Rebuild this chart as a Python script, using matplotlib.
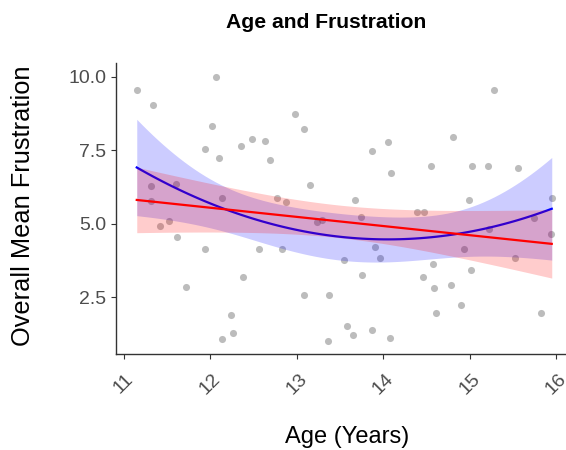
import numpy as np
import matplotlib
matplotlib.use("Agg")
import matplotlib.pyplot as plt

plt.rcParams["font.family"] = ["Liberation Sans", "DejaVu Sans"]

# values
age = [11.15, 11.34, 12.07, 12.02, 11.94, 12.10, 12.36, 12.48, 11.31, 11.60,
       12.14, 11.32, 12.63, 12.98, 13.08, 12.69, 13.15, 12.77, 12.88, 13.68,
       13.87, 14.06, 14.09, 15.28, 14.81, 14.55, 15.03, 15.21, 15.56, 14.99,
       15.95, 11.42, 11.52, 11.62, 11.94, 12.56, 12.38, 11.72, 12.24, 12.26,
       12.14, 12.83, 13.23, 13.29, 13.74, 13.90, 13.96, 13.55, 13.76, 13.09,
       13.37, 13.58, 13.65, 13.87, 14.08, 13.36, 14.39, 14.47, 15.74, 15.22,
       15.94, 14.94, 15.52, 14.58, 15.02, 14.46, 14.59, 14.78, 14.90, 14.61,
       15.82]
frustration = [9.55, 9.05, 10.0, 8.32, 7.55, 7.23, 7.66, 7.89, 6.30, 6.35,
               5.89, 5.76, 7.82, 8.74, 8.23, 7.16, 6.31, 5.89, 5.74, 5.81,
               7.47, 7.78, 6.74, 9.55, 7.96, 6.97, 6.97, 6.97, 6.89, 5.81,
               5.89, 4.92, 5.11, 4.57, 4.14, 4.14, 3.18, 2.84, 1.90, 1.29,
               1.10, 4.14, 5.06, 5.14, 5.23, 4.22, 3.84, 3.76, 3.26, 2.60,
               2.60, 1.52, 1.24, 1.41, 1.11, 1.02, 5.41, 5.41, 5.21, 4.82,
               4.64, 4.14, 3.84, 3.64, 3.42, 3.18, 2.83, 2.91, 2.25, 1.98,
               1.98]
x_ticks = [11, 12, 13, 14, 15, 16]
y_ticks = [2.5, 5.0, 7.5, 10.0]
y_tick_labels = ["2.5", "5.0", "7.5", "10.0"]

x = np.array(age)
y = np.array(frustration)


def smooth(deg, grid):
    # least squares fit with a 95% confidence band, like geom_smooth
    X = np.vander(x, deg + 1)
    coef, *_ = np.linalg.lstsq(X, y, rcond=None)
    resid = y - X @ coef
    dof = len(x) - (deg + 1)
    s2 = resid @ resid / dof
    cov = s2 * np.linalg.inv(X.T @ X)
    G = np.vander(grid, deg + 1)
    fit = G @ coef
    se = np.sqrt(np.einsum("ij,jk,ik->i", G, cov, G))
    t = 1.995
    return fit, fit - t * se, fit + t * se


grid = np.linspace(x.min(), x.max(), 80)

fig = plt.figure(figsize=(5.66, 4.5), dpi=100)
ax = fig.add_axes([116 / 566, (450 - 354.3) / 450, (572.5 - 116) / 566, (354.3 - 63.4) / 450])

ax.scatter(x, y, s=26, color="#7a7a7a", alpha=0.5, linewidths=0, zorder=1)

fit2, lo2, hi2 = smooth(2, grid)
ax.fill_between(grid, lo2, hi2, color="blue", alpha=0.2, linewidth=0, zorder=2)
ax.plot(grid, fit2, color="blue", lw=1.6, zorder=3)

fit1, lo1, hi1 = smooth(1, grid)
ax.fill_between(grid, lo1, hi1, color="red", alpha=0.2, linewidth=0, zorder=4)
ax.plot(grid, fit1, color="red", lw=1.6, zorder=5)

ax.set_xlim(10.91, 16.19)
ax.set_ylim(0.57, 10.45)
ax.set_xticks(x_ticks)
ax.set_xticklabels([str(t) for t in x_ticks], rotation=45, ha="center")
ax.set_yticks(y_ticks)
ax.set_yticklabels(y_tick_labels)
ax.tick_params(colors="#333333", labelcolor="#4D4D4D", labelsize=14,
               length=3.5, width=0.8)
ax.tick_params(axis="x", pad=8)
for side in ["top", "right"]:
    ax.spines[side].set_visible(False)
for side in ["left", "bottom"]:
    ax.spines[side].set_color("#333333")
    ax.spines[side].set_linewidth(1.0)

fig.text(326 / 566, 1 - 27.7 / 450, "Age and Frustration", ha="center",
         va="baseline", fontsize=15.2, fontweight="bold")
fig.text(23 / 566, 1 - 206 / 450, "Overall Mean Frustration", rotation=90,
         ha="center", va="center", fontsize=18.3)
fig.text(347 / 566, 1 - 437 / 450, "Age (Years)", ha="center", va="center",
         fontsize=17)

fig.savefig("out.png", dpi=100)
